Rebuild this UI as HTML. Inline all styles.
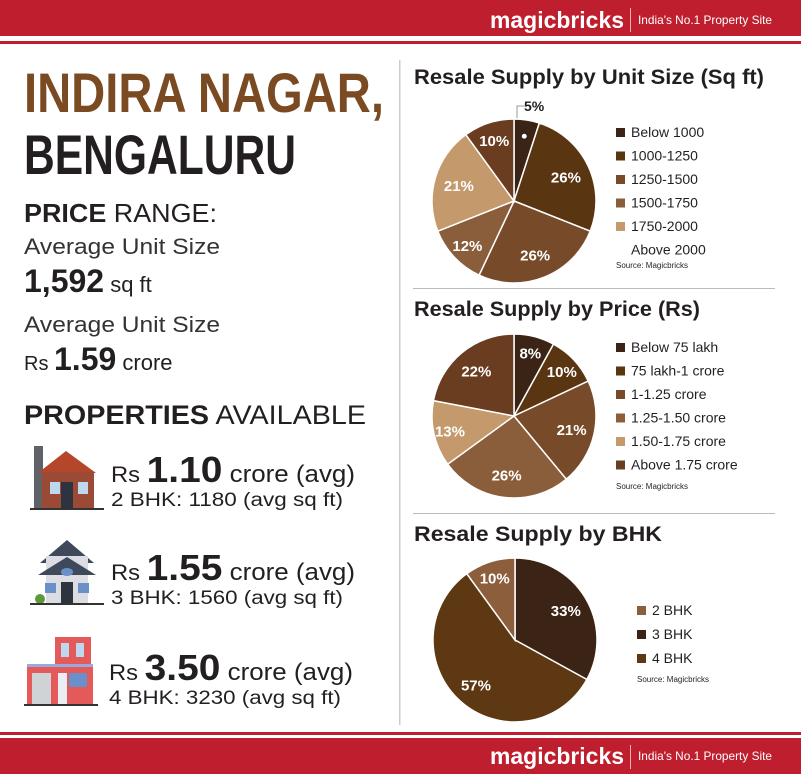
<!DOCTYPE html>
<html><head><meta charset="utf-8"><style>
html,body{margin:0;padding:0;background:#fff}
svg{display:block;font-family:"Liberation Sans",sans-serif}
</style></head><body>
<svg id="root" width="801" height="774" viewBox="0 0 801 774">
<rect x="0" y="0" width="801" height="36" fill="#be1e2d"/>
<rect x="0" y="41" width="801" height="3" fill="#be1e2d"/>
<text x="490" y="28" fill="#fff" font-size="23" font-weight="bold" textLength="134" lengthAdjust="spacingAndGlyphs">magicbricks</text>
<rect x="630" y="8" width="1" height="24" fill="#f4b0b6"/>
<text x="638" y="24" fill="#fff" font-size="12" textLength="134" lengthAdjust="spacingAndGlyphs">India's No.1 Property Site</text>

<rect x="0" y="732" width="801" height="3" fill="#be1e2d"/>
<rect x="0" y="738" width="801" height="36" fill="#be1e2d"/>
<text x="490" y="764" fill="#fff" font-size="23" font-weight="bold" textLength="134" lengthAdjust="spacingAndGlyphs">magicbricks</text>
<rect x="630" y="745" width="1" height="24" fill="#f4b0b6"/>
<text x="638" y="760" fill="#fff" font-size="12" textLength="134" lengthAdjust="spacingAndGlyphs">India's No.1 Property Site</text>

<rect x="399" y="60" width="1.5" height="665" fill="#ccc"/>
<rect x="413" y="288" width="362" height="1" fill="#bbb"/>
<rect x="413" y="513" width="362" height="1" fill="#bbb"/>

<g>
<text x="24" y="112" font-size="56" font-weight="bold" fill="#7a4a22" textLength="360" lengthAdjust="spacingAndGlyphs">INDIRA NAGAR,</text>
<text x="24" y="174" font-size="56" font-weight="bold" fill="#231f20" textLength="272" lengthAdjust="spacingAndGlyphs">BENGALURU</text>
<text x="24" y="222" font-size="26" fill="#231f20" textLength="193" lengthAdjust="spacingAndGlyphs"><tspan font-weight="bold">PRICE</tspan> RANGE:</text>
<text x="24" y="254" font-size="22" fill="#333" textLength="196" lengthAdjust="spacingAndGlyphs">Average Unit Size</text>
<text x="24" y="292" fill="#231f20"><tspan font-size="32" font-weight="bold">1,592</tspan><tspan font-size="22"> sq ft</tspan></text>
<text x="24" y="332" font-size="22" fill="#333" textLength="196" lengthAdjust="spacingAndGlyphs">Average Unit Size</text>
<text x="24" y="370" fill="#231f20"><tspan font-size="20">Rs </tspan><tspan font-size="32" font-weight="bold">1.59</tspan><tspan font-size="22"> crore</tspan></text>
<text x="24" y="424" font-size="27" fill="#231f20" textLength="342" lengthAdjust="spacingAndGlyphs"><tspan font-weight="bold">PROPERTIES</tspan> AVAILABLE</text>

<g>
<rect x="34" y="446" width="9" height="62" fill="#5f6368"/>
<polygon points="38,473 66,451 96,473" fill="#b5462a"/>
<rect x="42" y="472" width="52" height="36" fill="#9b4a36"/>
<rect x="50" y="482" width="10" height="12" fill="#bcd7ee"/>
<rect x="78" y="482" width="10" height="12" fill="#bcd7ee"/>
<rect x="61" y="482" width="12" height="26" fill="#2d3440"/>
<rect x="30" y="508" width="74" height="2" fill="#333"/>
</g>
<text x="111" y="482" fill="#231f20" textLength="244" lengthAdjust="spacingAndGlyphs"><tspan font-size="22">Rs </tspan><tspan font-size="36" font-weight="bold">1.10</tspan><tspan font-size="24"> crore (avg)</tspan></text>
<text x="111" y="506" font-size="19" fill="#231f20" textLength="232" lengthAdjust="spacingAndGlyphs">2 BHK: 1180 (avg sq ft)</text>

<g>
<polygon points="40,563 67,540 94,563" fill="#3e4a5c"/>
<rect x="46" y="556" width="42" height="48" fill="#dcdde2"/>
<polygon points="38,575 67,557 96,575" fill="#3e4a5c"/>
<ellipse cx="67" cy="572" rx="6" ry="4" fill="#6b8fc8"/>
<rect x="45" y="583" width="11" height="10" fill="#6b8fc8"/>
<rect x="78" y="583" width="11" height="10" fill="#6b8fc8"/>
<rect x="61" y="582" width="12" height="22" fill="#2d3440"/>
<circle cx="40" cy="599" r="5" fill="#5a9a3a"/>
<rect x="30" y="603" width="74" height="2" fill="#333"/>
</g>
<text x="111" y="580" fill="#231f20" textLength="244" lengthAdjust="spacingAndGlyphs"><tspan font-size="22">Rs </tspan><tspan font-size="36" font-weight="bold">1.55</tspan><tspan font-size="24"> crore (avg)</tspan></text>
<text x="111" y="604" font-size="19" fill="#231f20" textLength="232" lengthAdjust="spacingAndGlyphs">3 BHK: 1560 (avg sq ft)</text>

<g>
<rect x="55" y="637" width="36" height="30" fill="#e45a5a"/>
<rect x="61" y="643" width="8" height="14" fill="#bcd7ee"/>
<rect x="76" y="643" width="8" height="14" fill="#bcd7ee"/>
<rect x="27" y="664" width="66" height="3" fill="#9ad"/>
<rect x="27" y="667" width="66" height="37" fill="#e45a5a"/>
<rect x="32" y="673" width="19" height="31" fill="#cfd3d6"/>
<rect x="58" y="673" width="9" height="31" fill="#e8eef2"/>
<rect x="69" y="673" width="18" height="14" fill="#6b8fc8"/>
<rect x="24" y="704" width="74" height="2" fill="#333"/>
</g>
<text x="109" y="680" fill="#231f20" textLength="244" lengthAdjust="spacingAndGlyphs"><tspan font-size="22">Rs </tspan><tspan font-size="36" font-weight="bold">3.50</tspan><tspan font-size="24"> crore (avg)</tspan></text>
<text x="109" y="704" font-size="19" fill="#231f20" textLength="232" lengthAdjust="spacingAndGlyphs">4 BHK: 3230 (avg sq ft)</text>
</g>

<text x="414" y="84" font-size="21" font-weight="bold" fill="#231f20" textLength="350" lengthAdjust="spacingAndGlyphs">Resale Supply by Unit Size (Sq ft)</text>
<text x="414" y="316" font-size="21" font-weight="bold" fill="#231f20" textLength="286" lengthAdjust="spacingAndGlyphs">Resale Supply by Price (Rs)</text>
<text x="414" y="541" font-size="21" font-weight="bold" fill="#231f20" textLength="248" lengthAdjust="spacingAndGlyphs">Resale Supply by BHK</text>
<g id="charts"></g>
</svg>
<script>
// Chart 1: unit size
const sizeCategories = ["Below 1000","1000-1250","1250-1500","1500-1750","1750-2000","Above 2000"];
const sizeValues = [5,26,26,12,21,10];
const sizeColors = ["#3b2416","#5a3512","#774a2a","#8a5d3b","#c49a6c","#6a3c20"];
// Chart 2: price
const priceCategories = ["Below 75 lakh","75 lakh-1 crore","1-1.25 crore","1.25-1.50 crore","1.50-1.75 crore","Above 1.75 crore"];
const priceValues = [8,10,21,26,13,22];
const priceColors = ["#3b2416","#5a3512","#774a2a","#8a5d3b","#c49a6c","#6a3c20"];
// Chart 3: BHK (drawn order clockwise from top)
const bhkCategories = ["3 BHK","4 BHK","2 BHK"];
const bhkValues = [33,57,10];
const bhkColors = ["#3b2416","#5e3812","#8c5e3c"];
const bhkLegend = ["2 BHK","3 BHK","4 BHK"];
const bhkLegendColors = ["#8c5e3c","#3b2416","#5e3812"];

const NS="http://www.w3.org/2000/svg";
const host=document.getElementById('charts');
function mk(tag,attrs,parent){const e=document.createElementNS(NS,tag);for(const k in attrs)e.setAttribute(k,attrs[k]);(parent||host).appendChild(e);return e;}
function angle(frac){return frac*2*Math.PI - Math.PI/2;}
function pie(name,cx,cy,r,vals,cols,labelR){
  const g=mk('g',{});
  
  
  const total=vals.reduce((a,b)=>a+b,0);
  let acc=0;
  vals.forEach((v,i)=>{
    const a0=angle(acc/total), a1=angle((acc+v)/total);
    const large=(v/total)>0.5?1:0;
    const d=`M${cx},${cy} L${cx+r*Math.cos(a0)},${cy+r*Math.sin(a0)} A${r},${r} 0 ${large} 1 ${cx+r*Math.cos(a1)},${cy+r*Math.sin(a1)} Z`;
    const p=mk('path',{d:d,fill:cols[i],stroke:'#fff','stroke-width':1.5},g);
    
    
    const am=angle((acc+v/2)/total);
    const lr=(v/total<0.15)?labelR+0.08:labelR;
    if(v/total>=0.07){
      const t=mk('text',{x:cx+lr*r*Math.cos(am),y:cy+lr*r*Math.sin(am)+6,'text-anchor':'middle','font-size':15,'font-weight':'bold',fill:'#fff'},g);
      t.textContent=v+'%';
      
      
    } else {
      const lx=cx+0.8*r*Math.cos(am), ly=cy+0.8*r*Math.sin(am);
      mk('circle',{cx:lx,cy:ly,r:3,fill:'#fff',stroke:'#222','stroke-width':1},g);
      mk('polyline',{points:`${cx+3},${cy-r-1} ${cx+3},${cy-r-13} ${cx+10},${cy-r-13}`,fill:'none',stroke:'#999','stroke-width':1},g);
      const t=mk('text',{x:cx+10,y:cy-r-8,'font-size':14,'font-weight':'bold',fill:'#231f20'},g);
      t.textContent=v+'%';
      
      
    }
    acc+=v;
  });
}
function legend(name,x,y,step,cats,cols,noSwatchLast){
  const g=mk('g',{});
  
  
  cats.forEach((c,i)=>{
    const yy=y+i*step;
    if(!(noSwatchLast && i===cats.length-1)){
      const s=mk('rect',{x:x,y:yy-9,width:9,height:9,fill:cols[i]},g);
      
      
    }
    const t=mk('text',{x:x+15,y:yy,'font-size':14,fill:'#231f20'},g);
    t.textContent=c;
    
    
  });
  return g;
}
function source(x,y){const t=mk('text',{x:x,y:y,'font-size':8,fill:'#231f20'});t.textContent='Source: Magicbricks';

}

pie('unit-size-pie',514,201,82,sizeValues,sizeColors,0.7);
legend('unit-size-legend',616,137,23.5,sizeCategories,sizeColors,true);
source(616,268);
pie('price-pie',514,416,82,priceValues,priceColors,0.72);
legend('price-legend',616,352,23.5,priceCategories,priceColors,false);
source(616,489);
pie('bhk-pie',515,640,82,bhkValues,bhkColors,0.72);
legend('bhk-legend',637,615,24,bhkLegend,bhkLegendColors,false);
source(637,682);
</script>
</body></html>
